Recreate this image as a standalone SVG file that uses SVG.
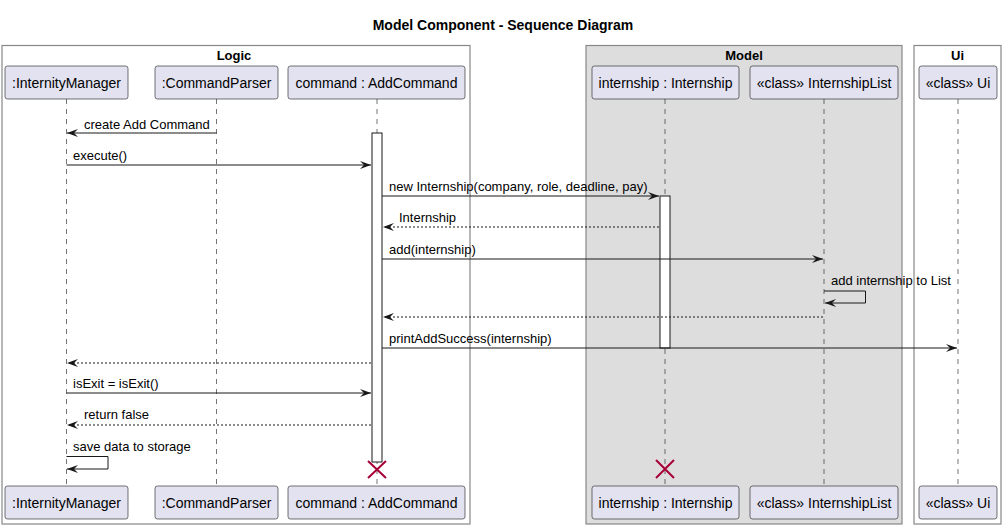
<svg xmlns="http://www.w3.org/2000/svg" width="1006" height="529" viewBox="0 0 1006 529">
<defs>
<style>
text{font-family:"Liberation Sans",Arial,sans-serif;fill:#000}
.title{font-size:14px;font-weight:bold}
.frame{fill:none;stroke:#888888;stroke-width:1.2}
.flabel{font-size:13px;font-weight:bold}
.part rect{fill:#E2E2F0;stroke:#181818;stroke-width:0.6}
.part text{font-size:14px}
.life{stroke:#181818;stroke-width:0.6;stroke-dasharray:5,5}
.msg{stroke:#181818;stroke-width:1;fill:none}
.ret{stroke:#181818;stroke-width:1;fill:none;stroke-dasharray:2,2}
.lbl{font-size:13px}
.act{fill:#FFFFFF;stroke:#181818;stroke-width:1}
.x{stroke:#A80036;stroke-width:2}
</style>
<marker id="ah" viewBox="0 0 11 8" refX="11" refY="4" markerWidth="11" markerHeight="8" markerUnits="userSpaceOnUse" orient="auto">
<path d="M0,0 L11,4 L0,8 L4,4 Z" fill="#181818"/>
</marker>
</defs>
<rect width="1006" height="529" fill="#FFFFFF"/>
<text class="title" x="503" y="30" text-anchor="middle">Model Component - Sequence Diagram</text>

<g id="frame-logic">
<rect class="frame" x="2" y="45.5" width="468" height="478.5"/>
<text class="flabel" x="234" y="60" text-anchor="middle">Logic</text>
</g>
<g id="frame-model">
<rect x="586" y="45.5" width="316" height="478.5" fill="#DDDDDD" stroke="#888888" stroke-width="1.2"/>
<text class="flabel" x="744" y="60" text-anchor="middle">Model</text>
</g>
<g id="frame-ui">
<rect class="frame" x="914" y="45.5" width="87" height="478.5"/>
<text class="flabel" x="957.5" y="60" text-anchor="middle">Ui</text>
</g>

<g id="lifelines">
<line class="life" x1="66.5" y1="99" x2="66.5" y2="486"/>
<line class="life" x1="216.5" y1="99" x2="216.5" y2="486"/>
<line class="life" x1="377" y1="99" x2="377" y2="486"/>
<line class="life" x1="665" y1="99" x2="665" y2="486"/>
<line class="life" x1="824" y1="99" x2="824" y2="486"/>
<line class="life" x1="958" y1="99" x2="958" y2="486"/>
</g>

<g id="activations">
<rect class="act" x="372" y="133" width="10" height="329"/>
<rect class="act" x="660" y="196" width="10" height="152"/>
</g>

<g id="p-internitymanager" class="part">
<rect x="5" y="66" width="123" height="33" rx="2.5"/>
<text x="66.5" y="88" text-anchor="middle">:InternityManager</text>
<rect x="5" y="486" width="123" height="33" rx="2.5"/>
<text x="66.5" y="508" text-anchor="middle">:InternityManager</text>
</g>
<g id="p-commandparser" class="part">
<rect x="155" y="66" width="123" height="33" rx="2.5"/>
<text x="216.5" y="88" text-anchor="middle">:CommandParser</text>
<rect x="155" y="486" width="123" height="33" rx="2.5"/>
<text x="216.5" y="508" text-anchor="middle">:CommandParser</text>
</g>
<g id="p-addcommand" class="part">
<rect x="288" y="66" width="177" height="33" rx="2.5"/>
<text x="376.5" y="88" text-anchor="middle">command : AddCommand</text>
<rect x="288" y="486" width="177" height="33" rx="2.5"/>
<text x="376.5" y="508" text-anchor="middle">command : AddCommand</text>
</g>
<g id="p-internship" class="part">
<rect x="592" y="66" width="147" height="33" rx="2.5"/>
<text x="665.5" y="88" text-anchor="middle">internship : Internship</text>
<rect x="592" y="486" width="147" height="33" rx="2.5"/>
<text x="665.5" y="508" text-anchor="middle">internship : Internship</text>
</g>
<g id="p-internshiplist" class="part">
<rect x="750" y="66" width="148" height="33" rx="2.5"/>
<text x="824" y="88" text-anchor="middle">«class» InternshipList</text>
<rect x="750" y="486" width="148" height="33" rx="2.5"/>
<text x="824" y="508" text-anchor="middle">«class» InternshipList</text>
</g>
<g id="p-ui" class="part">
<rect x="919" y="66" width="78" height="33" rx="2.5"/>
<text x="958" y="88" text-anchor="middle">«class» Ui</text>
<rect x="919" y="486" width="78" height="33" rx="2.5"/>
<text x="958" y="508" text-anchor="middle">«class» Ui</text>
</g>

<g id="connectors">
<line class="msg" x1="216.5" y1="133" x2="67" y2="133" marker-end="url(#ah)"/>
<text class="lbl" x="84" y="129">create Add Command</text>

<line class="msg" x1="66.5" y1="165" x2="371" y2="165" marker-end="url(#ah)"/>
<text class="lbl" x="73" y="160">execute()</text>

<line class="msg" x1="382" y1="196" x2="659" y2="196" marker-end="url(#ah)"/>
<text class="lbl" x="389" y="191">new Internship(company, role, deadline, pay)</text>

<line class="ret" x1="659" y1="227" x2="383" y2="227" marker-end="url(#ah)"/>
<text class="lbl" x="399" y="222">Internship</text>

<line class="msg" x1="382" y1="259" x2="823" y2="259" marker-end="url(#ah)"/>
<text class="lbl" x="389" y="254">add(internship)</text>

<polyline class="msg" points="824,291 865.5,291 865.5,303 825,303" marker-end="url(#ah)"/>
<text class="lbl" x="831" y="285">add internship to List</text>

<line class="ret" x1="823" y1="317" x2="383" y2="317" marker-end="url(#ah)"/>

<line class="msg" x1="382" y1="348" x2="957" y2="348" marker-end="url(#ah)"/>
<text class="lbl" x="389" y="343">printAddSuccess(internship)</text>

<line class="ret" x1="371" y1="363" x2="67" y2="363" marker-end="url(#ah)"/>

<line class="msg" x1="66.5" y1="393" x2="371" y2="393" marker-end="url(#ah)"/>
<text class="lbl" x="73" y="388">isExit = isExit()</text>

<line class="ret" x1="371" y1="425" x2="67" y2="425" marker-end="url(#ah)"/>
<text class="lbl" x="84" y="419">return false</text>

<polyline class="msg" points="66.5,456.5 108,456.5 108,469 67,469" marker-end="url(#ah)"/>
<text class="lbl" x="73" y="451">save data to storage</text>
</g>

<g id="destroy">
<path class="x" d="M368,461 L386,478 M386,461 L368,478"/>
<path class="x" d="M656,460 L674,478 M674,460 L656,478"/>
</g>
</svg>
